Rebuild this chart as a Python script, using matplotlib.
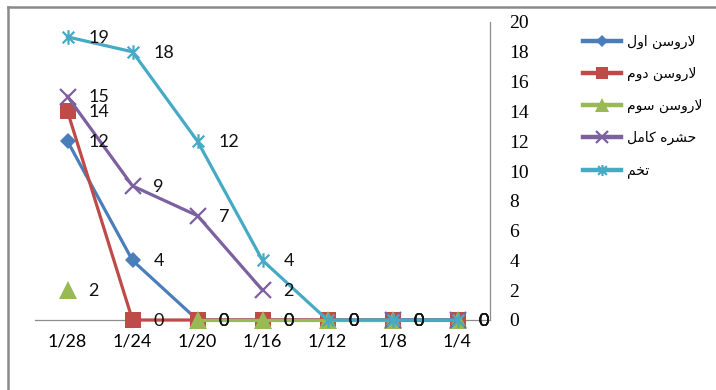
import numpy as np
import matplotlib
matplotlib.use("Agg")
import matplotlib.pyplot as plt
from matplotlib.lines import Line2D
from matplotlib.path import Path

# ---- data -------------------------------------------------------------
dates = ["1/28", "1/24", "1/20", "1/16", "1/12", "1/8", "1/4"]
larva_1 = [12, 4, 0, 0, 0, 0, 0]
larva_2 = [14, 0, 0, 0, 0, 0, 0]
larva_3 = [2, np.nan, 0, 0, 0, 0, 0]
adult = [15, 9, 7, 2, np.nan, 0, 0]
egg = [19, 18, 12, 4, 0, 0, 0]
series_names = ["لاروسن اول", "لاروسن دوم", "لاروسن سوم", "حشره کامل", "تخم"]
y_ticks = [0, 2, 4, 6, 8, 10, 12, 14, 16, 18, 20]

# ---- minimal Arabic/Persian shaping (matplotlib has no text shaping) ----
FORMS = {  # isolated, final, initial, medial
    "ا": ("\uFE8D", "\uFE8E", None, None),
    "د": ("\uFEA9", "\uFEAA", None, None),
    "ر": ("\uFEAD", "\uFEAE", None, None),
    "و": ("\uFEED", "\uFEEE", None, None),
    "ل": ("\uFEDD", "\uFEDE", "\uFEDF", "\uFEE0"),
    "س": ("\uFEB1", "\uFEB2", "\uFEB3", "\uFEB4"),
    "ن": ("\uFEE5", "\uFEE6", "\uFEE7", "\uFEE8"),
    "م": ("\uFEE1", "\uFEE2", "\uFEE3", "\uFEE4"),
    "ح": ("\uFEA1", "\uFEA2", "\uFEA3", "\uFEA4"),
    "ش": ("\uFEB5", "\uFEB6", "\uFEB7", "\uFEB8"),
    "ه": ("\uFEE9", "\uFEEA", "\uFEEB", "\uFEEC"),
    "ک": ("\uFB8E", "\uFB8F", "\uFB90", "\uFB91"),
    "ت": ("\uFE95", "\uFE96", "\uFE97", "\uFE98"),
    "خ": ("\uFEA5", "\uFEA6", "\uFEA7", "\uFEA8"),
}


def shape(text):
    shaped_words = []
    for word in text.split(" "):
        units, i = [], 0
        while i < len(word):
            if word[i] == "ل" and i + 1 < len(word) and word[i + 1] == "ا":
                units.append("لا")
                i += 2
            else:
                units.append(word[i])
                i += 1
        out = []
        for k, u in enumerate(units):
            prev = units[k - 1] if k > 0 else None
            prev_joins = prev is not None and prev != "لا" and FORMS[prev][2] is not None
            if u == "لا":
                out.append("\uFEFC" if prev_joins else "\uFEFB")
                continue
            iso, fin, ini, med = FORMS[u]
            next_joins = ini is not None and k + 1 < len(units)
            if prev_joins and next_joins:
                out.append(med)
            elif prev_joins:
                out.append(fin)
            elif next_joins:
                out.append(ini)
            else:
                out.append(iso)
        shaped_words.append("".join(out))
    return " ".join(shaped_words)[::-1]


# asterisk marker: X plus a vertical bar
star = Path(
    [(-1, -1), (1, 1), (-1, 1), (1, -1), (0, -1.25), (0, 1.25)],
    [Path.MOVETO, Path.LINETO, Path.MOVETO, Path.LINETO, Path.MOVETO, Path.LINETO],
)

styles = [
    dict(color="#4A7EBB", marker="D", ms=8, mew=0),
    dict(color="#BE4B48", marker="s", ms=11.5, mew=0),
    dict(color="#98B954", marker="^", ms=12.5, mew=0),
    dict(color="#7D60A0", marker="x", ms=11.5, mew=1.6),
    dict(color="#46AAC5", marker=star, ms=10.5, mew=1.6),
]
values = [larva_1, larva_2, larva_3, adult, egg]

fig = plt.figure(figsize=(7.16, 3.9), dpi=100)
W, H = 716, 390
ax = fig.add_axes([35 / W, 1 - 320 / H, (490 - 35) / W, (320 - 22) / H])

x = np.arange(len(dates))
handles = []
for vals, st, name in zip(values, styles, series_names):
    line, = ax.plot(x, vals, lw=2.3, color=st["color"], marker=st["marker"],
                    ms=st["ms"], mew=st["mew"], mec=st["color"], mfc=st["color"],
                    clip_on=False, zorder=3)
    handles.append(line)
    for xi, v in zip(x, vals):
        if np.isnan(v):
            continue
        ax.annotate(f"{v:g}", (xi, v), xytext=(21, -1), textcoords="offset pixels",
                    ha="left", va="center", fontsize=13, family="Lato",
                    color="#111111", zorder=4, annotation_clip=False)

ax.set_xlim(-0.5, len(dates) - 0.5)
ax.set_ylim(0, 20)
ax.set_xticks(x)
ax.set_xticklabels(dates, family="Lato", fontsize=13)
ax.set_yticks(y_ticks)
ax.yaxis.tick_right()
ax.set_yticklabels([str(t) for t in y_ticks], family="Liberation Serif", fontsize=14)
ax.tick_params(axis="x", length=0, pad=10)
ax.tick_params(axis="y", length=0, pad=14)
for side in ("top", "left"):
    ax.spines[side].set_visible(False)
for side in ("bottom", "right"):
    ax.spines[side].set_color("#8c8c8c")
    ax.spines[side].set_linewidth(0.9)

# outer chart border
fig.add_artist(Line2D([8 / W, 1], [1 - 7 / H, 1 - 7 / H], color="#8a8a8a", lw=1.8))
fig.add_artist(Line2D([8 / W, 8 / W], [0, 1 - 7 / H], color="#8a8a8a", lw=1.8))

leg = fig.legend(handles, [shape(n) for n in series_names],
                 loc="upper left", bbox_to_anchor=(570 / W, 1 - 22 / H),
                 frameon=False, handlelength=2.8, handletextpad=0.4,
                 labelspacing=1.3, prop={"family": "DejaVu Sans", "size": 10},
                 markerscale=0.75)
for lh in leg.get_lines():
    lh.set_linewidth(3.2)

fig.savefig("out.png", dpi=100)
